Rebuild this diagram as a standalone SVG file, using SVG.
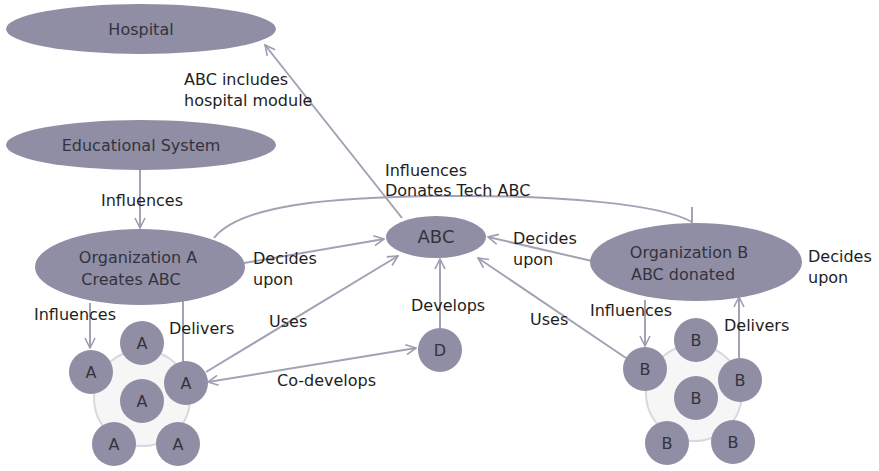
<svg xmlns="http://www.w3.org/2000/svg" width="879" height="471" viewBox="0 0 879 471">
<defs>
<marker id="arr" viewBox="0 0 12 12" refX="11" refY="6" markerWidth="12" markerHeight="12" markerUnits="userSpaceOnUse" orient="auto-start-reverse">
<path d="M1,1 L11,6 L1,11" fill="none" stroke="#9d9cb0" stroke-width="1.6"/>
</marker>
</defs>
<style>
.node{fill:#8f8ea4}
.nt{font-family:"DejaVu Sans","Liberation Sans",sans-serif;font-size:16px;fill:#34333d;text-anchor:middle}
.lab{font-family:"DejaVu Sans","Liberation Sans",sans-serif;font-size:16px;fill:#1e1e22}
.ln{fill:none;stroke:#a3a2b4;stroke-width:2}
.ring{fill:#f6f6f7;stroke:#d8d8de;stroke-width:2}
</style>
<rect width="879" height="471" fill="#ffffff"/>
<g id="connectors">
<path class="ln" d="M402,218 L265,45" marker-end="url(#arr)"/>
<path class="ln" d="M140,170 L140,228" marker-end="url(#arr)"/>
<path class="ln" d="M244,263 L384,239" marker-end="url(#arr)"/>
<path class="ln" d="M206,372 L398,256" marker-end="url(#arr)"/>
<path class="ln" d="M208,382 L416,348" marker-start="url(#arr)" marker-end="url(#arr)"/>
<path class="ln" d="M440,328 L440,259" marker-end="url(#arr)"/>
<path class="ln" d="M626,358 L478,258" marker-end="url(#arr)"/>
<path class="ln" d="M592,261 L488,237" marker-end="url(#arr)"/>
<path class="ln" d="M90,303 L90,348" marker-end="url(#arr)"/>
<path class="ln" d="M183,362 L183,300"/>
<path class="ln" d="M645,300 L645,346" marker-end="url(#arr)"/>
<path class="ln" d="M739,358 L739,297" marker-end="url(#arr)"/>
<path class="ln" d="M214,238 C240,205 330,197 440,196 C560,195 660,204 692,222"/>
<path class="ln" d="M692,207 L692,223"/>
</g>
<g id="hospital"><ellipse class="node" cx="141" cy="29" rx="135" ry="25"/><text class="nt" x="141" y="35">Hospital</text></g>
<g id="education"><ellipse class="node" cx="141" cy="145" rx="135" ry="25"/><text class="nt" x="141" y="151">Educational System</text></g>
<g id="orgA"><ellipse class="node" cx="140" cy="267" rx="105" ry="38"/><text class="nt" x="138" y="263">Organization A</text><text class="nt" x="131" y="285">Creates ABC</text></g>
<g id="abc"><ellipse class="node" cx="436" cy="237" rx="50" ry="21"/><text class="nt" x="436" y="243" style="font-size:18px">ABC</text></g>
<g id="orgB"><ellipse class="node" cx="696" cy="262" rx="106" ry="39"/><text class="nt" x="689" y="258">Organization B</text><text class="nt" x="683" y="280">ABC donated</text></g>
<g id="D"><circle class="node" cx="440" cy="350" r="22"/><text class="nt" x="440" y="356">D</text></g>
<g id="clusterA">
<circle class="ring" cx="142" cy="398" r="48"/>
<circle class="node" cx="142" cy="343" r="22"/><text class="nt" x="142" y="349">A</text>
<circle class="node" cx="91" cy="372" r="22"/><text class="nt" x="91" y="378">A</text>
<circle class="node" cx="186" cy="383" r="22"/><text class="nt" x="186" y="389">A</text>
<circle class="node" cx="142" cy="401" r="22"/><text class="nt" x="142" y="407">A</text>
<circle class="node" cx="114" cy="444" r="22"/><text class="nt" x="114" y="450">A</text>
<circle class="node" cx="178" cy="444" r="22"/><text class="nt" x="178" y="450">A</text>
</g>
<g id="clusterB">
<circle class="ring" cx="694" cy="393" r="48"/>
<circle class="node" cx="696" cy="340" r="22"/><text class="nt" x="696" y="346">B</text>
<circle class="node" cx="645" cy="369" r="22"/><text class="nt" x="645" y="375">B</text>
<circle class="node" cx="740" cy="380" r="22"/><text class="nt" x="740" y="386">B</text>
<circle class="node" cx="696" cy="398" r="22"/><text class="nt" x="696" y="404">B</text>
<circle class="node" cx="667" cy="443" r="22"/><text class="nt" x="667" y="449">B</text>
<circle class="node" cx="733" cy="442" r="22"/><text class="nt" x="733" y="448">B</text>
</g>
<g id="labels">
<text class="lab" x="184" y="85">ABC includes</text>
<text class="lab" x="184" y="106">hospital module</text>
<text class="lab" x="101" y="206">Influences</text>
<text class="lab" x="385" y="176">Influences</text>
<text class="lab" x="385" y="196">Donates Tech ABC</text>
<text class="lab" x="253" y="264">Decides</text>
<text class="lab" x="253" y="285">upon</text>
<text class="lab" x="513" y="244">Decides</text>
<text class="lab" x="513" y="265">upon</text>
<text class="lab" x="808" y="262">Decides</text>
<text class="lab" x="808" y="283">upon</text>
<text class="lab" x="34" y="320">Influences</text>
<text class="lab" x="169" y="334">Delivers</text>
<text class="lab" x="269" y="327">Uses</text>
<text class="lab" x="411" y="311">Develops</text>
<text class="lab" x="530" y="325">Uses</text>
<text class="lab" x="590" y="316">Influences</text>
<text class="lab" x="724" y="331">Delivers</text>
<text class="lab" x="277" y="386">Co-develops</text>
</g>
</svg>
